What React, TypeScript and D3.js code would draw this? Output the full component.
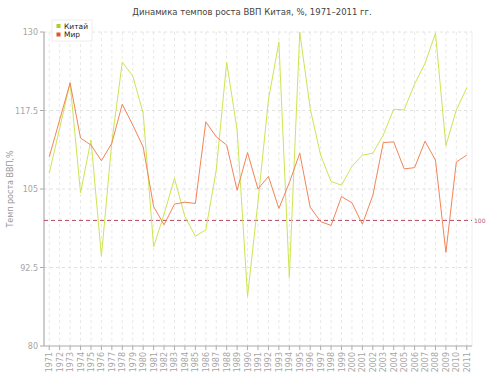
import React from "react";
import * as d3 from "d3";

const years: number[] = d3.range(1971, 2012);
const china: number[] = [107.5, 114.7, 121.9, 104.4, 112.8, 94.3, 112.5, 125.2, 123.0, 117.1,
  95.8, 101, 106.7, 100.6, 97.5, 98.5, 108.0, 125.2, 114.4, 87.9,
  103, 119.2, 128.4, 90.9, 130, 117.8, 110.4, 106.2, 105.6, 108.6,
  110.4, 110.7, 113.6, 117.7, 117.6, 121.7, 125.0, 129.8, 111.9, 117.6, 121.1];
const world: number[] = [110.1, 116, 121.9, 113.1, 112, 109.5, 112.3, 118.5, 115.2, 111.7,
  102.2, 99.3, 102.6, 102.9, 102.7, 115.7, 113.3, 112, 104.8, 110.8,
  105, 107, 101.9, 106, 110.7, 102.1, 99.8, 99.2, 103.8, 102.8,
  99.4, 104.0, 112.4, 112.5, 108.2, 108.4, 112.6, 109.6, 94.9, 109.3, 110.4];
const yTicks: number[] = [80, 92.5, 105, 117.5, 130];
const seriesNames = ["Китай", "Мир"];
const title = "Динамика темпов роста ВВП Китая, %, 1971–2011 гг.";
const yTitle = "Темп роста ВВП,%";
const refValue = 100;

const W = 504, H = 378;
const L = 44, R = 472, T = 32, B = 346;
const FONT = "DejaVu Sans, Verdana, sans-serif";

export default function App() {
  const x = d3.scalePoint<number>().domain(years).range([L, R]).padding(0.5);
  const y = d3.scaleLinear().domain([80, 130]).range([B, T]);
  const line = d3.line<number>().x((_, i) => x(years[i])!).y(d => y(d));
  const colors = ["#cde552", "#f28458"];
  const markerColors = ["#a6d41c", "#e4561e"];
  return (
    <svg width={W} height={H} style={{ position: "absolute", left: 0, top: 0, background: "#fff" }}>
      <text x={252} y={15} textAnchor="middle" fontFamily={FONT} fontSize={8.5} fill="#444">{title}</text>
      {/* grid */}
      {years.map(yr => (
        <line key={"vg" + yr} x1={x(yr)} x2={x(yr)} y1={T} y2={B} stroke="#e8e8e8" strokeDasharray="3,3" strokeWidth={1} />
      ))}
      {yTicks.filter(t => t !== 80).map(t => (
        <line key={"hg" + t} x1={L} x2={R} y1={y(t)} y2={y(t)} stroke="#e2e2e2" strokeDasharray="3,3" strokeWidth={1} />
      ))}
      <line x1={R} x2={R} y1={T} y2={B} stroke="#eeeeee" strokeWidth={1} />
      {/* axes */}
      <line x1={L} x2={L} y1={T} y2={B} stroke="#aaaaaa" strokeWidth={1.2} />
      <line x1={L} x2={R} y1={B} y2={B} stroke="#aaaaaa" strokeWidth={1.2} />
      {yTicks.map(t => (
        <g key={"yt" + t}>
          <line x1={L - 4} x2={L} y1={y(t)} y2={y(t)} stroke="#aaaaaa" />
          <text x={L - 6} y={y(t) + 3} textAnchor="end" fontFamily={FONT} fontSize={8} fill="#a6a6a6">{t}</text>
        </g>
      ))}
      {years.map(yr => (
        <g key={"xt" + yr}>
          <line x1={x(yr)} x2={x(yr)} y1={B} y2={B + 4} stroke="#aaaaaa" />
          <text transform={`translate(${x(yr)! + 3},${B + 6}) rotate(-90)`} textAnchor="end" fontFamily={FONT} fontSize={8} fill="#a6a6a6">{yr}</text>
        </g>
      ))}
      <text transform={`translate(13,${(T + B) / 2}) rotate(-90)`} textAnchor="middle" fontFamily={FONT} fontSize={8} fill="#999">{yTitle}</text>
      {/* reference line */}
      <line x1={L} x2={R} y1={y(refValue)} y2={y(refValue)} stroke="#b5485c" strokeDasharray="4,3" strokeWidth={1} />
      <text x={R + 2} y={y(refValue) + 2.5} fontFamily={FONT} fontSize={6} fill="#b0606e">{refValue}</text>
      {/* series */}
      <path d={line(china)!} fill="none" stroke={colors[0]} strokeWidth={1} />
      <path d={line(world)!} fill="none" stroke={colors[1]} strokeWidth={1} />
      {/* legend */}
      <rect x={52} y={20} width={40} height={21} fill="#fff" stroke="#eeeeee" />
      {seriesNames.map((n, i) => (
        <g key={n}>
          <rect x={56.5} y={24 + i * 8.5} width={4} height={4} fill={markerColors[i]} />
          <text x={64} y={28.5 + i * 8.5} fontFamily={FONT} fontSize={7.5} fill="#222">{n}</text>
        </g>
      ))}
    </svg>
  );
}
